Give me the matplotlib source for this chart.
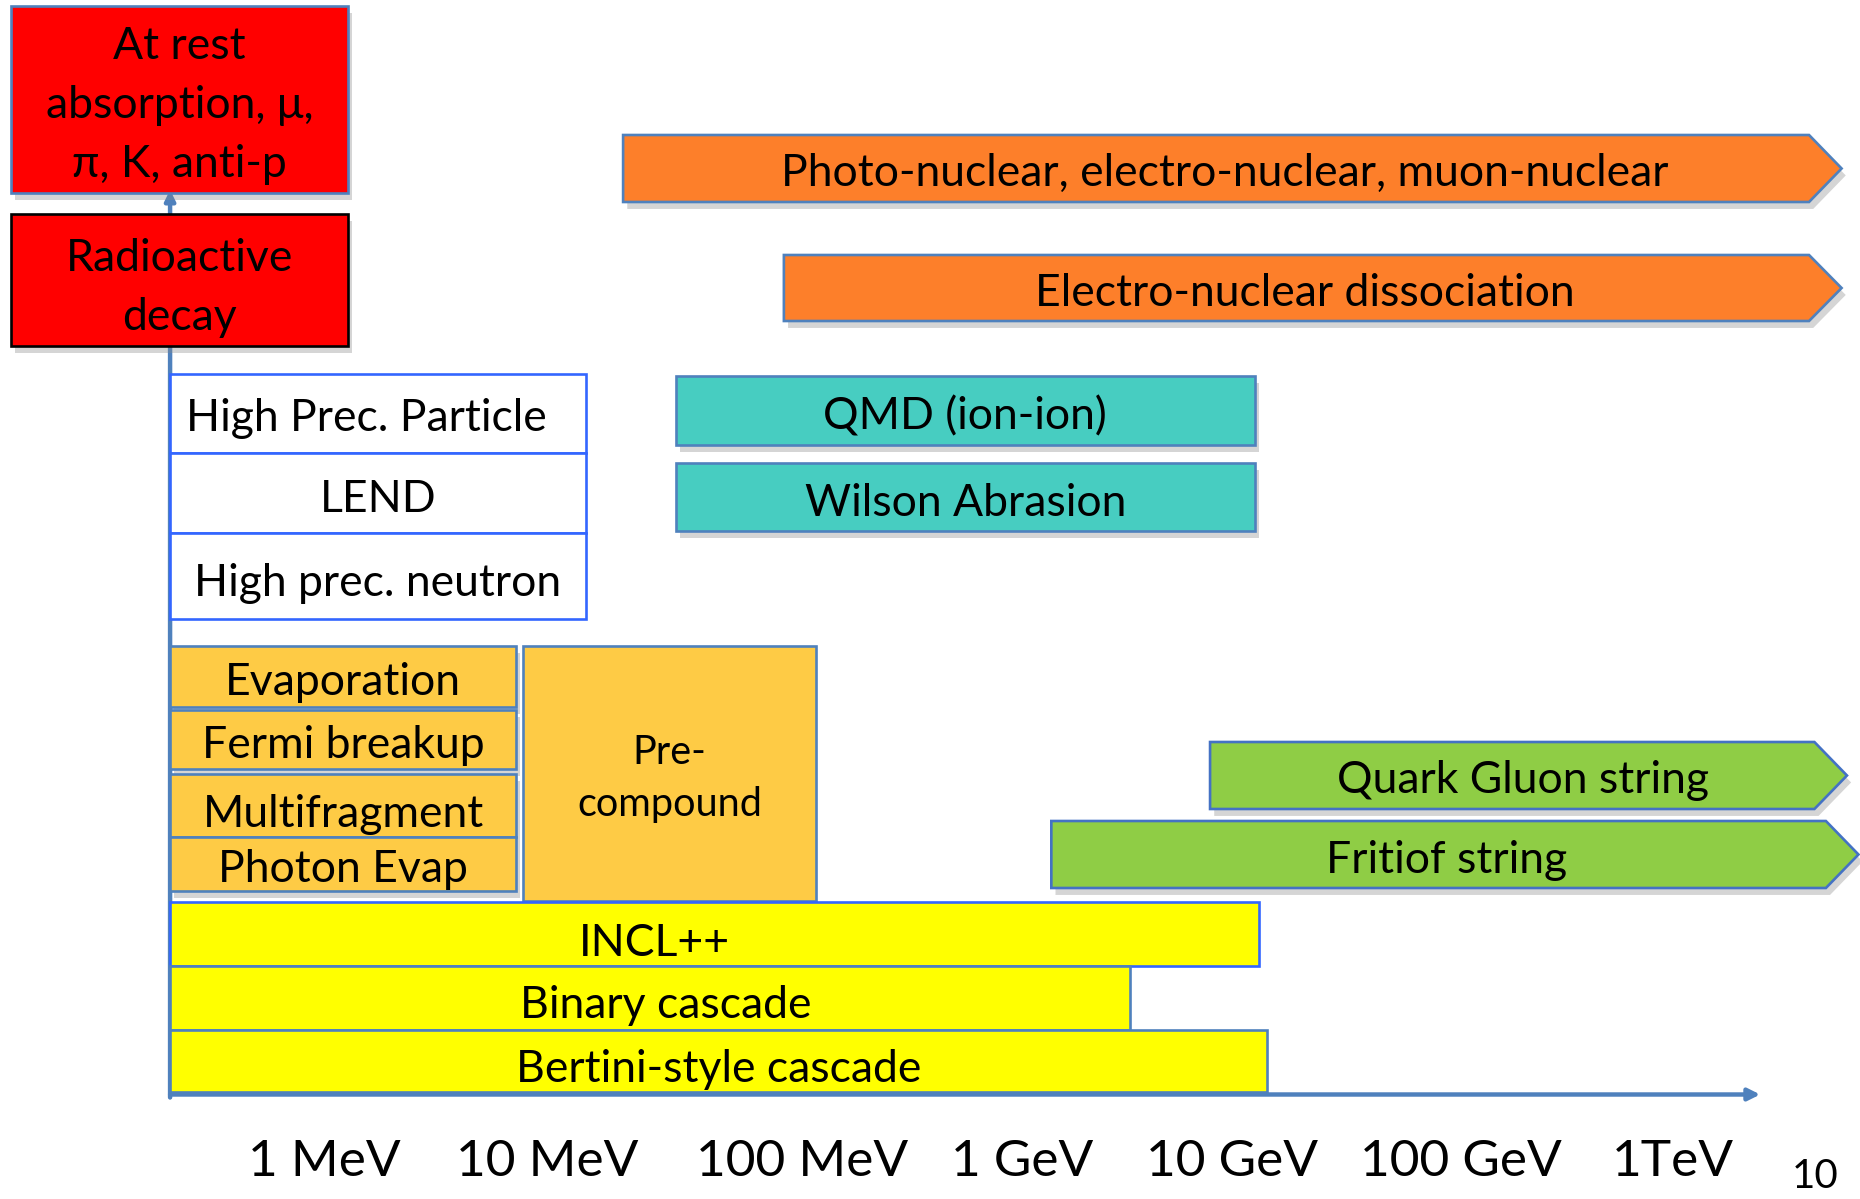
import matplotlib
matplotlib.use('Agg')
import matplotlib.pyplot as plt
from matplotlib.patches import Polygon
import matplotlib.patheffects as pe

plt.rcParams['font.family'] = ['Lato', 'DejaVu Sans']

# model names, energy coverage in MeV (log axis); open arrows end at the tip
labels = [
    'At rest\nabsorption, μ,\nπ, K, anti-p', 'Radioactive\ndecay',
    'High Prec. Particle', 'LEND', 'High prec. neutron',
    'Photo-nuclear, electro-nuclear, muon-nuclear', 'Electro-nuclear dissociation',
    'QMD (ion-ion)', 'Wilson Abrasion',
    'Evaporation', 'Fermi breakup', 'Multifragment', 'Photon Evap', 'Pre-\ncompound',
    'Quark Gluon string', 'Fritiof string',
    'INCL++', 'Binary cascade', 'Bertini-style cascade',
]
e_lo = [0.037, 0.037,
        0.19, 0.19, 0.19,
        19.8, 103,
        34, 34,
        0.19, 0.19, 0.19, 0.19, 7.1,
        8150, 1600,
        0.19, 0.19, 0.19]
e_hi = [1.18, 1.18,
        13.5, 13.5, 13.5,
        5.3e6, 5.3e6,
        12900, 12900,
        6.6, 6.6, 6.6, 6.6, 143,
        5.6e6, 6.3e6,
        13500, 3600, 14600]
open_ended = ['Photo-nuclear, electro-nuclear, muon-nuclear', 'Electro-nuclear dissociation',
              'Quark Gluon string', 'Fritiof string']

tick_mev = [1, 10, 100, 1e3, 1e4, 1e5, 1e6]
tick_labels = ['1 MeV', '10 MeV', '100 MeV', '1 GeV', '10 GeV', '100 GeV', '1TeV']
axis_start_mev = 0.19
axis_end_mev = 2.3e6

# ---- layout (slide pixels, top/bottom of each row) and styles ----
rows = [(6, 193), (214, 346),
        (374, 453), (453, 533), (533, 619),
        (135, 202), (255, 321),
        (376, 445), (463, 531),
        (646, 707), (710, 769), (774, 837), (837, 891), (646, 901),
        (742, 809), (821, 888),
        (902, 966), (966, 1030), (1030, 1092)]
fills = ['#ff0000', '#ff0000',
         'white', 'white', 'white',
         '#fd7f2a', '#fd7f2a',
         '#47cdc1', '#47cdc1',
         '#fecb45', '#fecb45', '#fecb45', '#fecb45', '#fecb45',
         '#8fcd45', '#8fcd45',
         '#ffff00', '#ffff00', '#ffff00']
edges = ['#4f81bd', 'black',
         '#3366ff', '#3366ff', '#3366ff',
         '#4f81bd', '#4f81bd',
         '#4f81bd', '#4f81bd',
         '#4f81bd', '#4f81bd', '#4f81bd', '#4f81bd', '#4f81bd',
         '#4472c4', '#4472c4',
         '#3366ff', '#4f81bd', '#4f81bd']
shadowed = {'At rest\nabsorption, μ,\nπ, K, anti-p', 'Radioactive\ndecay',
            'Photo-nuclear, electro-nuclear, muon-nuclear', 'Electro-nuclear dissociation',
            'QMD (ion-ion)', 'Wilson Abrasion', 'Evaporation', 'Fermi breakup',
            'Multifragment', 'Photon Evap', 'Quark Gluon string', 'Fritiof string'}
# label offsets in pixels (x right, y down)
text_shift = {'INCL++': (-60, 10), 'Binary cascade': (16, 8), 'Bertini-style cascade': (0, 9),
              'High Prec. Particle': (-12, 5), 'Multifragment': (0, 9), 'High prec. neutron': (0, 8),
              'Pre-\ncompound': (0, 5), 'At rest\nabsorption, μ,\nπ, K, anti-p': (0, 6),
              'Radioactive\ndecay': (0, 8),
              'Photo-nuclear, electro-nuclear, muon-nuclear': (-8, 5),
              'Electro-nuclear dissociation': (-8, 5), 'Quark Gluon string': (-6, 5),
              'Fritiof string': (-8, 6)}
text_size = {'Pre-\ncompound': 28.5}
line_sp = {'At rest\nabsorption, μ,\nπ, K, anti-p': 1.55, 'Radioactive\ndecay': 1.55,
           'Pre-\ncompound': 1.5}
tick_shift = [-8, -9, 21, 17, 2, 6, -6]
head_dec = 0.145   # arrow head length in decades
px_per_dec = 224.5
x0_px = 332

W, H = 1860, 1199
fig = plt.figure(figsize=(W / 100, H / 100), dpi=100)
ax = fig.add_axes([0, 0, 1, 1])
ax.set_xscale('log')
ax.set_xlim(10 ** (-x0_px / px_per_dec), 10 ** ((W - x0_px) / px_per_dec))
ax.set_ylim(H, 0)
ax.axis('off')

axis_col = '#4f81bd'
y_axis = 1094.5
# energy axis and vertical axis
ax.annotate('', xy=(axis_end_mev, y_axis), xytext=(axis_start_mev, y_axis),
            arrowprops=dict(arrowstyle='-|>,head_length=0.7,head_width=0.35',
                            color=axis_col, lw=3.2, shrinkA=0, shrinkB=0), zorder=1)
ax.annotate('', xy=(axis_start_mev, 190), xytext=(axis_start_mev, y_axis + 3),
            arrowprops=dict(arrowstyle='-|>,head_length=0.6,head_width=0.3',
                            color=axis_col, lw=3.2, shrinkA=0, shrinkB=0), zorder=1)

shadow = [pe.SimplePatchShadow(offset=(3, -5), shadow_rgbFace='#888888', alpha=0.35), pe.Normal()]

for lab, lo, hi, (top, bot), fc, ec in zip(labels, e_lo, e_hi, rows, fills, edges):
    mid = (top + bot) / 2
    if lab in open_ended:
        body = hi / 10 ** head_dec
        verts = [(lo, top), (body, top), (hi, mid), (body, bot), (lo, bot)]
    else:
        verts = [(lo, top), (hi, top), (hi, bot), (lo, bot)]
    poly = Polygon(verts, closed=True, facecolor=fc, edgecolor=ec, lw=1.9, zorder=3)
    if lab in shadowed:
        poly.set_path_effects(shadow)
    ax.add_patch(poly)
    dx, dy = text_shift.get(lab, (0, 6))
    ax.annotate(lab, xy=((lo * hi) ** 0.5, mid), xytext=(dx, -dy), textcoords='offset pixels',
                ha='center', va='center', fontsize=text_size.get(lab, 32),
                linespacing=line_sp.get(lab, 1.2), color='black', zorder=4)

for e, t, s in zip(tick_mev, tick_labels, tick_shift):
    ax.annotate(t, xy=(e, 1162), xytext=(s, 0), textcoords='offset pixels',
                ha='center', va='center', fontsize=37, color='black')

fig.text(1815 / W, 1 - 1176 / H, '10', ha='center', va='center', fontsize=29)

fig.savefig('out.png', dpi=100)
